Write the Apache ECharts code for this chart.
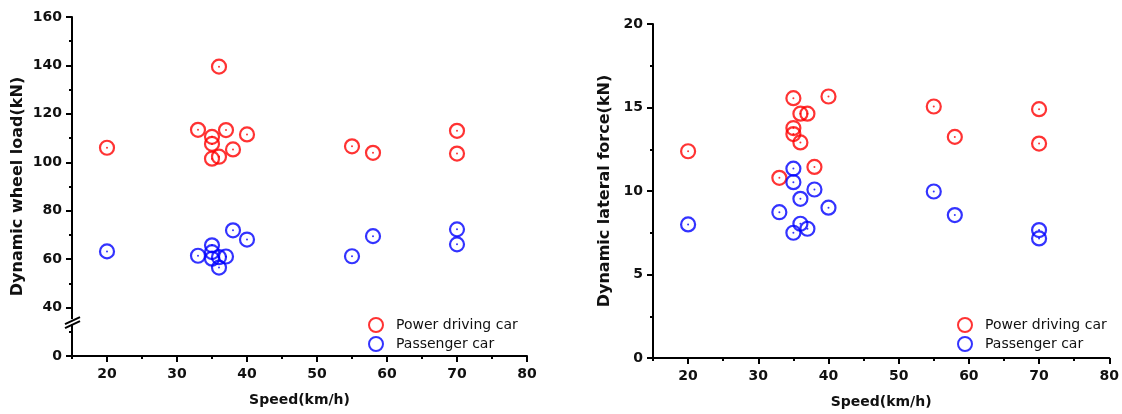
<!DOCTYPE html>
<html>
<head>
<meta charset="utf-8">
<script src="https://cdn.jsdelivr.net/npm/echarts@6/dist/echarts.min.js"></script>
<style>
  html, body { margin: 0; padding: 0; background: #fff; }
  #chart { width: 1122px; height: 414px; }
</style>
</head>
<body>
<div id="chart"></div>
<script>
  // speeds shared by both panels (km/h)
  const speeds = [20, 33, 35, 35, 35, 36, 36, 37, 38, 40, 55, 58, 70, 70];

  // left panel: dynamic wheel load (kN)
  const wheelPower = [106, 113.4, 110.5, 107.6, 101.5, 139.5, 102.3, 113.3, 105.3, 111.5, 106.6, 103.9, 113, 103.6];
  const wheelPassenger = [63.2, 61.4, 65.7, 62.9, 60.2, 60.8, 56.5, 61.1, 71.9, 68.1, 61.2, 69.5, 72.3, 66.1];

  // right panel: dynamic lateral force (kN)
  const lateralPower = [12.38, 10.79, 15.56, 13.77, 13.41, 14.63, 12.91, 14.63, 11.44, 15.66, 15.06, 13.24, 14.9, 12.84];
  const lateralPassenger = [8.0, 8.73, 11.34, 10.53, 7.5, 9.53, 8.04, 7.74, 10.09, 9.0, 9.97, 8.56, 7.66, 7.16];

  // tick values
  const speedTicks = [20, 30, 40, 50, 60, 70, 80];
  const speedMinorTicks = [15, 25, 35, 45, 55, 65, 75];
  // left y axis is broken: the bottom tick (drawn at 20) stands for 0
  const wheelAxisZeroAt = 20;
  const wheelBreakAt = 34;

  const seriesNames = ['Power driving car', 'Passenger car'];
  const RED = '#ff0000';
  const BLUE = '#0000ff';
  const FONT = 'DejaVu Sans';

  const pairs = (xs, ys) => xs.map((x, i) => [x, ys[i]]);

  const chart = echarts.init(document.getElementById('chart'), null, { renderer: 'canvas' });

  const axisLine = { show: true, onZero: false, lineStyle: { color: '#000', width: 2 } };
  const tickLabel = { color: '#111', fontFamily: FONT, fontWeight: 'bold', fontSize: 14 };
  const axisName = { color: '#111', fontFamily: FONT, fontWeight: 'bold', fontSize: 14 };
  const yAxisName = { color: '#111', fontFamily: FONT, fontWeight: 'bold', fontSize: 16 };

  const speedAxis = (gridIndex) => ({
    type: 'value',
    gridIndex,
    position: 'bottom',
    min: 15,
    max: 80,
    name: 'Speed(km/h)',
    nameLocation: 'middle',
    nameGap: 37,
    nameTextStyle: axisName,
    axisLine,
    axisTick: { show: true, inside: false, length: 6, customValues: speedTicks, lineStyle: { color: '#000', width: 2 } },
    axisLabel: Object.assign({ margin: 11, customValues: speedTicks }, tickLabel),
    splitLine: { show: false }
  });

  // invisible axis carrying only the short ticks at the fives
  const speedMinorAxis = (gridIndex) => ({
    type: 'value',
    gridIndex,
    position: 'bottom',
    min: 15,
    max: 80,
    axisLine: { show: false, onZero: false },
    axisTick: { show: true, inside: false, length: 3, customValues: speedMinorTicks, lineStyle: { color: '#000', width: 2 } },
    axisLabel: { show: false },
    splitLine: { show: false }
  });

  const scatter = (name, xIdx, yIdx, data, color) => ({
    name,
    type: 'scatter',
    xAxisIndex: xIdx,
    yAxisIndex: yIdx,
    data,
    symbol: 'circle',
    symbolSize: 14,
    itemStyle: { color: 'rgba(255,255,255,0)', borderColor: color, borderWidth: 2.2 },
    emphasis: { disabled: true },
    z: 3
  });

  const centerDot = (xIdx, yIdx, data, color) => ({
    name: 'dot',
    type: 'scatter',
    xAxisIndex: xIdx,
    yAxisIndex: yIdx,
    data,
    symbol: 'circle',
    symbolSize: 2,
    itemStyle: { color },
    silent: true,
    z: 4
  });

  const legend = (left) => ({
    data: seriesNames,
    orient: 'vertical',
    left,
    top: 312,
    itemWidth: 14,
    itemHeight: 14,
    itemGap: 3,
    selectedMode: false,
    textStyle: { color: '#111', fontFamily: FONT, fontSize: 14, padding: [0, 0, 0, 8] }
  });

  const option = {
    animation: false,
    backgroundColor: '#fff',
    grid: [
      { left: 72, top: 17, width: 455, height: 339 },
      { left: 653, top: 24, width: 458, height: 335 }
    ],
    xAxis: [speedAxis(0), speedAxis(1), speedMinorAxis(0), speedMinorAxis(1)],
    yAxis: [
      {
        type: 'value',
        gridIndex: 0,
        min: wheelAxisZeroAt,
        max: 160,
        interval: 20,
        name: 'Dynamic wheel load(kN)',
        nameLocation: 'middle',
        nameGap: 46,
        nameTextStyle: yAxisName,
        axisLine,
        axisTick: { show: true, inside: false, length: 6, lineStyle: { color: '#000', width: 2 } },
        minorTick: { show: true, splitNumber: 2, length: 3, lineStyle: { color: '#000', width: 2 } },
        axisLabel: Object.assign({ margin: 10, formatter: v => (v === wheelAxisZeroAt ? '0' : String(v)) }, tickLabel),
        splitLine: { show: false }
      },
      {
        type: 'value',
        gridIndex: 1,
        min: 0,
        max: 20,
        interval: 5,
        name: 'Dynamic lateral force(kN)',
        nameLocation: 'middle',
        nameGap: 40,
        nameTextStyle: yAxisName,
        axisLine,
        axisTick: { show: true, inside: false, length: 6, lineStyle: { color: '#000', width: 2 } },
        minorTick: { show: true, splitNumber: 2, length: 3, lineStyle: { color: '#000', width: 2 } },
        axisLabel: Object.assign({ margin: 10 }, tickLabel),
        splitLine: { show: false }
      }
    ],
    legend: [legend(363), legend(952)],
    series: [
      scatter(seriesNames[0], 0, 0, pairs(speeds, wheelPower), RED),
      scatter(seriesNames[1], 0, 0, pairs(speeds, wheelPassenger), BLUE),
      centerDot(0, 0, pairs(speeds, wheelPower), RED),
      centerDot(0, 0, pairs(speeds, wheelPassenger), BLUE),
      scatter(seriesNames[0], 1, 1, pairs(speeds, lateralPower), RED),
      scatter(seriesNames[1], 1, 1, pairs(speeds, lateralPassenger), BLUE),
      centerDot(1, 1, pairs(speeds, lateralPower), RED),
      centerDot(1, 1, pairs(speeds, lateralPassenger), BLUE)
    ]
  };

  chart.setOption(option);

  // axis-break mark on the left y axis
  const p = chart.convertToPixel({ xAxisIndex: 0, yAxisIndex: 0 }, [15, wheelBreakAt]);
  chart.setOption({
    graphic: [
      { type: 'rect', shape: { x: p[0] - 3, y: p[1] - 3, width: 6, height: 5 }, style: { fill: '#fff' }, z: 100 },
      { type: 'line', shape: { x1: p[0] - 7, y1: p[1] + 2, x2: p[0] + 8, y2: p[1] - 5 }, style: { stroke: '#000', lineWidth: 2 }, z: 101 },
      { type: 'line', shape: { x1: p[0] - 7, y1: p[1] + 6, x2: p[0] + 8, y2: p[1] - 1 }, style: { stroke: '#000', lineWidth: 2 }, z: 101 }
    ]
  });
</script>
</body>
</html>
